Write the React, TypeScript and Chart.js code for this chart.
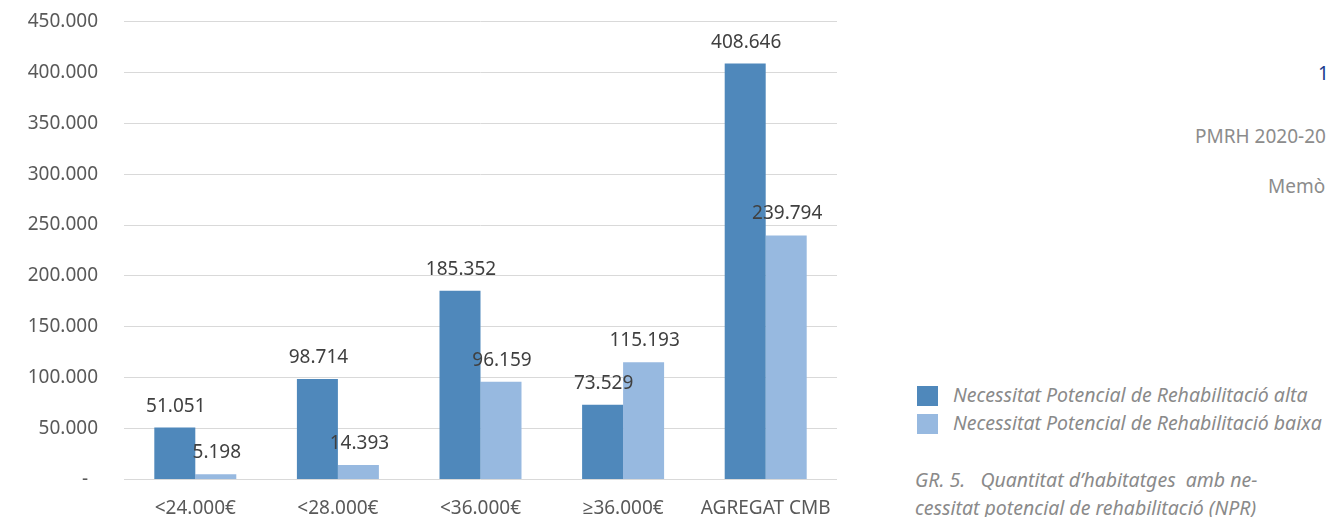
import React, { useEffect, useRef } from 'react';
import { Chart, registerables } from 'chart.js';

Chart.register(...registerables);

const categories = ['<24.000€', '<28.000€', '<36.000€', '≥36.000€', 'AGREGAT CMB'];
const seriesNames = ['Necessitat Potencial de Rehabilitació alta', 'Necessitat Potencial de Rehabilitació baixa'];
const altaValues = [51051, 98714, 185352, 73529, 408646];
const baixaValues = [5198, 14393, 96159, 115193, 239794];
const yMax = 450000;
const yStep = 50000;
const seriesColors = ['#4F88BB', '#97B9E0'];

const fmt = (v: number) => String(Math.round(v)).replace(/\B(?=(\d{3})+(?!\d))/g, '.');

const FONT = '"Noto Sans", "Open Sans", sans-serif';

const valueLabels = {
  id: 'valueLabels',
  afterDatasetsDraw(chart: any) {
    const ctx = chart.ctx;
    ctx.save();
    ctx.font = '19px "Noto Sans"';
    ctx.fillStyle = '#404040';
    ctx.textAlign = 'center';
    ctx.textBaseline = 'alphabetic';
    chart.data.datasets.forEach((ds: any, i: number) => {
      const meta = chart.getDatasetMeta(i);
      meta.data.forEach((bar: any, j: number) => {
        ctx.fillText(fmt(ds.data[j]), bar.x + 1, bar.y - 16);
      });
    });
    ctx.restore();
  },
};

function BarChart() {
  const ref = useRef<HTMLCanvasElement | null>(null);
  useEffect(() => {
    if (!ref.current) return;
    const chart = new Chart(ref.current, {
      type: 'bar',
      data: {
        labels: categories,
        datasets: [
          { label: seriesNames[0], data: altaValues, backgroundColor: seriesColors[0], categoryPercentage: 0.575, barPercentage: 1 },
          { label: seriesNames[1], data: baixaValues, backgroundColor: seriesColors[1], categoryPercentage: 0.575, barPercentage: 1 },
        ],
      },
      options: {
        animation: false,
        responsive: false,
        maintainAspectRatio: false,
        layout: { padding: { left: 0, right: 13, top: 5, bottom: 0 } },
        plugins: { legend: { display: false }, tooltip: { enabled: false } },
        scales: {
          x: {
            grid: { display: false },
            border: { display: false },
            ticks: { color: '#595959', font: { family: FONT, size: 19 }, padding: 10, maxRotation: 0 },
            afterFit: (s: any) => { s.height = 36; },
          },
          y: {
            min: 0,
            max: yMax,
            grid: { color: '#D9D9D9', lineWidth: 1, drawTicks: false },
            border: { display: false },
            ticks: {
              stepSize: yStep,
              color: '#595959',
              font: { family: FONT, size: 19 },
              padding: 26,
              callback: (v: any) => (Number(v) === 0 ? '-  ' : fmt(Number(v))),
            },
            afterFit: (s: any) => { s.width = 124; },
          },
        },
      },
      plugins: [valueLabels],
    });
    return () => chart.destroy();
  }, []);
  return <canvas ref={ref} width={850} height={533} style={{ position: 'absolute', left: 0, top: -16, width: 850, height: 533 }} />;
}

export default function App() {
  const gray = '#8A8A8A';
  const it = { position: 'absolute' as const, fontSize: 19.5, lineHeight: '24px', fontStyle: 'italic', color: gray, whiteSpace: 'pre' as const };
  return (
    <div style={{ position: 'absolute', left: 0, top: 0, width: 1326, height: 517, overflow: 'hidden', background: '#fff', fontFamily: FONT }}>
      <BarChart />
      <div style={{ position: 'absolute', left: 1318, top: 61, fontSize: 19, lineHeight: '24px', color: '#1A3A8C', whiteSpace: 'pre' }}>1</div>
      <div style={{ position: 'absolute', left: 1195, top: 124, fontSize: 19, lineHeight: '24px', color: '#8C8C8C', whiteSpace: 'pre' }}>PMRH 2020-20</div>
      <div style={{ position: 'absolute', left: 1268, top: 174, fontSize: 19, lineHeight: '24px', color: '#8C8C8C', whiteSpace: 'pre' }}>Memò</div>

      <div style={{ position: 'absolute', left: 917, top: 386, width: 21, height: 20, background: seriesColors[0] }} />
      <div style={{ position: 'absolute', left: 917, top: 414, width: 21, height: 20, background: seriesColors[1] }} />
      <div style={{ ...it, left: 953, top: 383 }}>{seriesNames[0]}</div>
      <div style={{ ...it, left: 953, top: 411 }}>{seriesNames[1]}</div>

      <div style={{ ...it, left: 915, top: 468 }}>{'GR. 5.   Quantitat d\u2019habitatges  amb ne-'}</div>
      <div style={{ ...it, left: 915, top: 496 }}>{'cessitat potencial de rehabilitació (NPR)'}</div>
    </div>
  );
}
